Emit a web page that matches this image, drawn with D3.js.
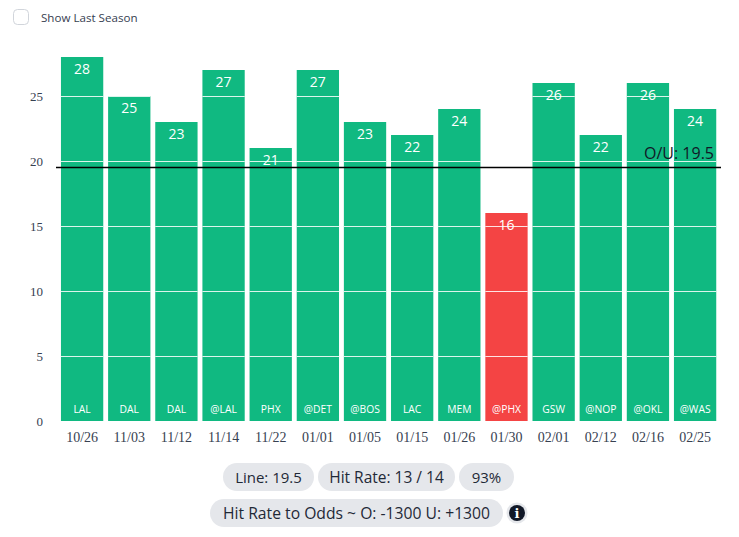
<!DOCTYPE html>
<html>
<head>
<meta charset="utf-8">
<script src="https://cdn.jsdelivr.net/npm/d3@7"></script>
<style>
body { margin: 0; background: #fff; }
svg { display: block; }
</style>
</head>
<body>
<div id="chart"></div>
<script>
var dates = ["10/26","11/03","11/12","11/14","11/22","01/01","01/05","01/15","01/26","01/30","02/01","02/12","02/16","02/25"];
var opponents = ["LAL","DAL","DAL","@LAL","PHX","@DET","@BOS","LAC","MEM","@PHX","GSW","@NOP","@OKL","@WAS"];
var points = [28,25,23,27,21,27,23,22,24,16,26,22,26,24];
var yTicks = [0,5,10,15,20,25];
var line = 19.5;
var pills = [
    {text: "Line: 19.5", x: 223, w: 91, y: 463, size: 15},
    {text: "Hit Rate: 13 / 14", x: 318, w: 137, y: 463, size: 15.5},
    {text: "93%", x: 459, w: 55, y: 463, size: 15},
    {text: "Hit Rate to Odds ~ O: -1300 U: +1300", x: 210, w: 293, y: 499, size: 15.7}
];

var sans = "'Open Sans', 'Noto Sans', sans-serif";
var serif = "'Liberation Serif', serif";

var svg = d3.select("#chart").append("svg")
    .attr("width", 739)
    .attr("height", 537);

// Show Last Season checkbox
svg.append("rect")
    .attr("x", 13.5).attr("y", 9.5)
    .attr("width", 15).attr("height", 15)
    .attr("rx", 4)
    .style("fill", "#fff")
    .style("stroke", "#d1d5db");
svg.append("text")
    .attr("x", 41).attr("y", 22)
    .style("font-family", sans)
    .style("font-size", "11.6px")
    .style("fill", "#374151")
    .text("Show Last Season");

var x = d3.scaleBand()
    .domain(dates)
    .range([58.6, 718.6])
    .paddingInner(0.103)
    .paddingOuter(0.05);

var y = d3.scaleLinear()
    .domain([0, 28])
    .range([421, 57]);

// bars
svg.selectAll(".bar")
    .data(points)
    .enter().append("rect")
    .attr("class", "bar")
    .attr("x", function (d, i) { return x(dates[i]); })
    .attr("y", function (d) { return y(d); })
    .attr("width", x.bandwidth())
    .attr("height", function (d) { return y(0) - y(d); })
    .style("fill", function (d) { return d > line ? "#10b981" : "#f44444"; });

// grid lines run over the bars, they only show on the green and red
var barClip = svg.append("clipPath").attr("id", "bars");
points.forEach(function (d, i) {
    barClip.append("rect")
        .attr("x", x(dates[i]))
        .attr("y", y(d))
        .attr("width", x.bandwidth())
        .attr("height", y(0) - y(d));
});
svg.append("g")
    .attr("clip-path", "url(#bars)")
    .selectAll("line")
    .data(yTicks.slice(1))
    .enter().append("line")
    .attr("x1", 56).attr("x2", 721)
    .attr("y1", function (d) { return y(d) + 0.5; })
    .attr("y2", function (d) { return y(d) + 0.5; })
    .style("stroke", "#fff")
    .style("stroke-opacity", 0.85)
    .style("stroke-width", 1);

// axes
var yAxis = svg.append("g")
    .attr("transform", "translate(56,0)")
    .call(d3.axisLeft(y).tickValues(yTicks).tickSize(0).tickPadding(13));
var xAxis = svg.append("g")
    .attr("transform", "translate(0,421)")
    .call(d3.axisBottom(x).tickSize(0).tickPadding(11));
[yAxis, xAxis].forEach(function (axis) {
    axis.select(".domain").remove();
    axis.selectAll("text")
        .style("font-family", serif)
        .style("font-size", axis === yAxis ? "13px" : "14px")
        .style("fill", "#374151");
});

// value labels
svg.selectAll(".value")
    .data(points)
    .enter().append("text")
    .attr("class", "value")
    .attr("x", function (d, i) { return x(dates[i]) + x.bandwidth() / 2; })
    .attr("y", function (d) { return y(d) + 17; })
    .attr("text-anchor", "middle")
    .style("font-family", sans)
    .style("font-size", "14px")
    .style("fill", "#fff")
    .text(function (d) { return d; });

// opponent labels
svg.selectAll(".opp")
    .data(opponents)
    .enter().append("text")
    .attr("class", "opp")
    .attr("x", function (d, i) { return x(dates[i]) + x.bandwidth() / 2; })
    .attr("y", 413)
    .attr("text-anchor", "middle")
    .style("font-family", sans)
    .style("font-size", "10.3px")
    .style("fill", "#fff")
    .text(function (d) { return d; });

// over/under line
svg.append("line")
    .attr("x1", 56).attr("x2", 721)
    .attr("y1", y(line)).attr("y2", y(line))
    .style("stroke", "#000")
    .style("stroke-width", 1.5);
svg.append("text")
    .attr("x", 714).attr("y", 159)
    .attr("text-anchor", "end")
    .style("font-family", sans)
    .style("font-size", "16px")
    .style("fill", "#111827")
    .text("O/U: " + line);

// pills under the chart
var pill = svg.selectAll(".pill")
    .data(pills)
    .enter().append("g")
    .attr("class", "pill");
pill.append("rect")
    .attr("x", function (d) { return d.x; })
    .attr("y", function (d) { return d.y; })
    .attr("width", function (d) { return d.w; })
    .attr("height", 28)
    .attr("rx", 14)
    .style("fill", "#e5e7eb");
pill.append("text")
    .attr("x", function (d) { return d.x + d.w / 2; })
    .attr("y", function (d) { return d.y + 19.5; })
    .attr("text-anchor", "middle")
    .style("font-family", sans)
    .style("font-size", function (d) { return d.size + "px"; })
    .style("font-weight", 500)
    .style("fill", "#1f2937")
    .text(function (d) { return d.text; });

// info icon
svg.append("circle").attr("cx", 517).attr("cy", 513).attr("r", 10.5).style("fill", "#e5e7eb");
svg.append("circle").attr("cx", 517).attr("cy", 513).attr("r", 8).style("fill", "#111827");
svg.append("text")
    .attr("x", 517).attr("y", 518)
    .attr("text-anchor", "middle")
    .style("font-family", "'DejaVu Serif', serif")
    .style("font-size", "13px")
    .style("font-weight", 700)
    .style("fill", "#fff")
    .text("i");
</script>
</body>
</html>
